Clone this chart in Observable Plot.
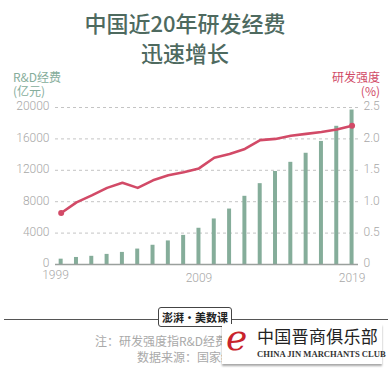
<!DOCTYPE html>
<html>
<head>
<meta charset="utf-8">
<script src="https://cdn.jsdelivr.net/npm/d3@7"></script>
<script src="https://cdn.jsdelivr.net/npm/@observablehq/plot@0.6"></script>
<style>
  html, body { margin: 0; padding: 0; background: #fff; }
  #wrap { position: relative; width: 391px; height: 376px; overflow: hidden; background: #fff;
          font-family: "Noto Sans CJK SC", "Noto Sans", sans-serif; }
  #chart { position: absolute; left: 0; top: 0; }
  .abs { position: absolute; white-space: nowrap; }
  .title { left: 0; width: 370px; text-align: center; font-size: 22px; font-weight: 500; color: #4e6a5f; line-height: 30px; }
  .ylab { font-size: 12px; line-height: 14px; }
  .note { left: 0; width: 394px; text-align: center; font-size: 12px; color: #a9a9a9; line-height: 16px; }
</style>
</head>
<body>
<div id="wrap">
  <div id="chart"></div>
  <div class="abs title" style="top:7px">中国近20年研发经费</div>
  <div class="abs title" style="top:37px">迅速增长</div>
  <div class="abs ylab" style="left:13px;top:70px;color:#86ad9b">R&amp;D经费<br>(亿元)</div>
  <div class="abs ylab" style="right:11px;top:70px;color:#d04a67;text-align:right">研发强度<br>(%)</div>
  <div class="abs" style="left:4px;top:319px;width:384px;height:1px;background:#555"></div>
  <div class="abs" style="left:158px;top:307px;width:72px;height:18px;background:#fff;border:1px solid #444;border-radius:3px;font-size:11px;font-weight:700;color:#222;text-align:center;line-height:18px">澎湃·美数课</div>
  <div class="abs note" style="top:333px">注：研发强度指R&amp;D经费与GDP的比重</div>
  <div class="abs note" style="top:349px">数据来源：国家统计局</div>
  <div class="abs" style="left:222px;top:324px;width:160px;height:40px;background:#fff;box-shadow:0 2px 2px rgba(0,0,0,0.35)"></div>
  <div class="abs" style="left:226px;top:318px;font-family:'DejaVu Serif',serif;font-style:italic;font-size:36px;color:#c8232c;line-height:40px">e</div>
  <div class="abs" style="left:257px;top:326px;font-family:'Noto Sans CJK SC',serif;font-size:17px;color:#222;line-height:20px;letter-spacing:0.3px">中国晋商俱乐部</div>
  <div class="abs" style="left:257px;top:348px;font-family:'Liberation Serif',serif;font-size:8.6px;font-weight:700;color:#333;line-height:12px">CHINA JIN MARCHANTS CLUB</div>
</div>
<script>
// R&D spending (亿元), one bar per year, left axis
const rdValues = [679, 896, 1043, 1288, 1540, 1966, 2450, 3003, 3710, 4616,
                  5802, 7063, 8687, 10298, 11847, 13016, 14170, 15677, 17606, 19678];
// R&D intensity (%), right axis
const intensity = [0.82, 0.99, 1.10, 1.22, 1.30, 1.22, 1.34, 1.42, 1.47, 1.53,
                   1.70, 1.76, 1.84, 1.98, 2.00, 2.05, 2.08, 2.11, 2.15, 2.21];
const leftTicks = [0, 4000, 8000, 12000, 16000, 20000];
const rightTickLabels = ["0", "0.5", "1.0", "1.5", "2.0", "2.5"];
const xTickIndex = [9, 19];
const xTickLabels = ["2009", "2019"];
const firstLabel = "1999";

const ratio = 20000 / 2.5;
const bars = rdValues.map((v, i) => ({i, v}));
const line = intensity.map((v, i) => ({i, v: v * ratio}));
const ends = [line[0], line[line.length - 1]];

const red = "#d24a67";
const green = "#85ad9a";

const chart = Plot.plot({
  width: 391,
  height: 376,
  marginTop: 107,
  marginBottom: 112,
  marginLeft: 55,
  marginRight: 33,
  style: {fontFamily: "Roboto, 'Liberation Sans', sans-serif", fontSize: "12px", fontWeight: 300, color: "#a8a8a8", background: "transparent"},
  x: {domain: [-0.37, 19.42], label: null},
  y: {domain: [0, 20000], label: null},
  marks: [
    Plot.ruleY(leftTicks.filter(d => d > 0), {stroke: "#c4c4c4", strokeWidth: 1, strokeDasharray: "3,3"}),
    Plot.rectY(bars, {x1: d => d.i - 0.13, x2: d => d.i + 0.13, y: "v", fill: green}),
    Plot.ruleY([0], {stroke: "#9aa09d", strokeWidth: 1.6}),
    Plot.line(line, {x: "i", y: "v", stroke: red, strokeWidth: 2.6, curve: "linear"}),
    Plot.dot(ends, {x: "i", y: "v", r: 3, fill: red}),
    Plot.axisY({ticks: leftTicks, tickSize: 0, tickPadding: 6, label: null, dy: -1,
                tickFormat: d => String(d)}),
    Plot.axisY({anchor: "right", ticks: leftTicks, tickSize: 0, tickPadding: 5, label: null, dy: -1,
                tickFormat: d => rightTickLabels[leftTicks.indexOf(d)]}),
    Plot.axisX({ticks: xTickIndex, tickSize: 0, tickPadding: 9, label: null,
                tickFormat: d => xTickLabels[xTickIndex.indexOf(d)]}),
    Plot.text([firstLabel], {frameAnchor: "bottom-left", text: d => d, textAnchor: "middle",
                             dy: 14, fill: "#a8a8a8", fontSize: 12})
  ]
});
document.getElementById("chart").appendChild(chart);
</script>
</body>
</html>
